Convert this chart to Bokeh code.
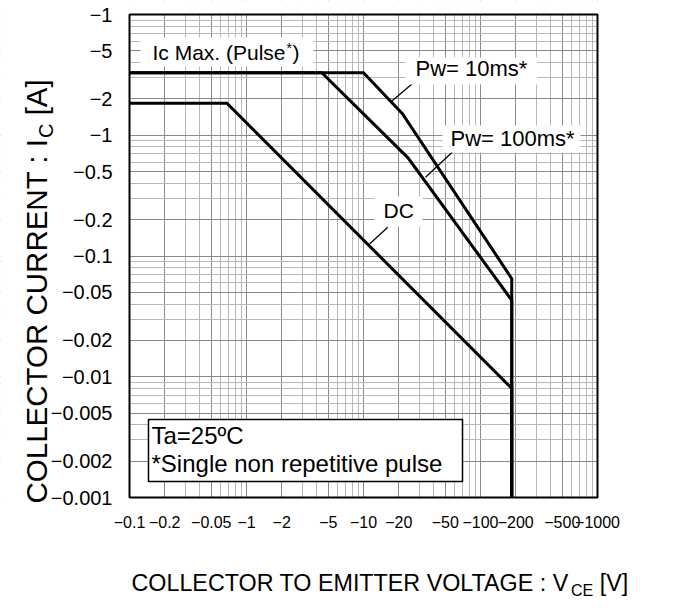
import math
from bokeh.plotting import figure
from bokeh.models import Range1d, FixedTicker, CustomJSTickFormatter, Label, BoxAnnotation
from bokeh.embed import file_html
from bokeh.resources import INLINE

# ---------------- data ----------------
x_tick_values = [0.1, 0.2, 0.5, 1, 2, 5, 10, 20, 50, 100, 200, 500, 1000]
x_tick_labels = ["−0.1", "−0.2", "−0.05", "−1", "−2", "−5", "−10", "−20",
                 "−50", "−100", "−200", "−500", "−1000"]
y_tick_values = [0.001, 0.002, 0.005, 0.01, 0.02, 0.05, 0.1, 0.2, 0.5, 1, 2, 5, 10]
y_tick_labels = ["−0.001", "−0.002", "−0.005", "−0.01", "−0.02", "−0.05", "−0.1",
                 "−0.2", "−0.5", "−1", "−2", "−5", "−1"]

vce_10ms = [0.1, 10, 21.5, 185, 185]
ic_10ms = [3.3, 3.3, 1.51, 0.065, 0.001]
vce_100ms = [0.1, 4.4, 24, 185, 185]
ic_100ms = [3.3, 3.3, 0.65, 0.043, 0.001]
vce_dc = [0.1, 0.68, 185, 185]
ic_dc = [1.84, 1.84, 0.008, 0.001]

# ---------------- layout ----------------
W, H = 684, 613
PL, PR, PT, PB = 129, 597, 14, 497      # plot box on the canvas (px)
X0, X1 = 0.1, 1000
Y0, Y1 = 0.001, 10
FONT = "Liberation Sans"
KX = (math.log10(X1) - math.log10(X0)) / (PR - PL)
KY = (math.log10(Y1) - math.log10(Y0)) / (PB - PT)
BSHIFT = 0.36   # empirical baseline correction (em)


def dx(px):
    return 10 ** (math.log10(X0) + (px - PL) * KX)


def dy(py):
    return 10 ** (math.log10(Y1) - (py - PT) * KY)


# Arial / Liberation Sans advance widths (per 1000 em)
AW = {'C': 722, 'O': 778, 'L': 556, 'E': 667, 'T': 611, 'R': 722, 'U': 722, 'N': 722,
      ' ': 278, ':': 278, 'I': 278, '[': 278, 'A': 667, ']': 278, 'V': 667, 'M': 833,
      'G': 778}


def tw(s, size):
    return sum(AW.get(c, 600) for c in s) * size / 1000.0


p = figure(width=W, height=H, output_backend="svg", toolbar_location=None,
           x_axis_type="log", y_axis_type="log",
           x_range=Range1d(dx(0), dx(W)), y_range=Range1d(dy(H), dy(0)),
           min_border=0, min_border_left=0, min_border_right=0,
           min_border_top=0, min_border_bottom=0)
p.background_fill_color = "white"
p.border_fill_color = "white"
p.outline_line_color = None

minor_x = [m * 10 ** e for e in range(-1, 3) for m in range(1, 10)] + [1000]
minor_y = [m * 10 ** e for e in range(-3, 1) for m in range(1, 10)] + [10]

fmt_code = """
let best = 0, bd = Infinity;
for (let i = 0; i < vals.length; i++) {
  const d = Math.abs(Math.log10(vals[i]) - Math.log10(tick));
  if (d < bd) { bd = d; best = i; }
}
return labels[best];
"""
p.xaxis.ticker = FixedTicker(ticks=x_tick_values, minor_ticks=minor_x)
p.yaxis.ticker = FixedTicker(ticks=y_tick_values, minor_ticks=minor_y)
p.xaxis.formatter = CustomJSTickFormatter(args=dict(vals=x_tick_values, labels=x_tick_labels), code=fmt_code)
p.yaxis.formatter = CustomJSTickFormatter(args=dict(vals=y_tick_values, labels=y_tick_labels), code=fmt_code)
p.xaxis.fixed_location = Y0
p.yaxis.fixed_location = X0

for ax in (p.xaxis, p.yaxis):
    ax.axis_line_color = None
    ax.major_tick_line_color = None
    ax.minor_tick_line_color = None
    ax.major_tick_in = 0
    ax.major_tick_out = 0
    ax.minor_tick_in = 0
    ax.minor_tick_out = 0
    ax.major_label_text_font = FONT
    ax.major_label_text_color = "black"
p.xaxis.major_label_text_font_size = "16px"
p.yaxis.major_label_text_font_size = "20px"
p.xaxis.major_label_standoff = 18
p.yaxis.major_label_standoff = 17

for g in (p.xgrid, p.ygrid):
    g.grid_line_color = "#8a8a8a"
    g.grid_line_width = 1
    g.minor_grid_line_color = "#b8b8b8"
    g.minor_grid_line_width = 1

# white margins hiding the grid outside the plot box (drawn just above the grid)
for kw in (dict(bottom=Y1), dict(top=Y0), dict(right=X0), dict(left=X1)):
    p.add_layout(BoxAnnotation(level="underlay", fill_color="white", fill_alpha=1,
                               line_color=None, **kw))

# ---------------- curves ----------------
for xs, ys in ((vce_dc, ic_dc), (vce_100ms, ic_100ms), (vce_10ms, ic_10ms)):
    p.line(xs, ys, line_color="black", line_width=3, line_join="miter")

# leader lines (layout, canvas px)
leaders = [((411.7, 83.3), (390.0, 101.7)),
           ((451.7, 151.7), (425.0, 176.7)),
           ((387.3, 226.7), (369.3, 243.3))]
p.segment(x0=[dx(a[0]) for a, b in leaders], y0=[dy(a[1]) for a, b in leaders],
          x1=[dx(b[0]) for a, b in leaders], y1=[dy(b[1]) for a, b in leaders],
          line_color="black", line_width=1.3)

# white label backgrounds
for (l, t, r, b) in [(140, 37, 313, 66), (405, 57, 537, 84), (442, 125, 580, 152),
                     (374, 196, 422, 226)]:
    p.add_layout(BoxAnnotation(left=dx(l), right=dx(r), top=dy(t), bottom=dy(b),
                               fill_color="white", fill_alpha=1, line_color=None))
p.add_layout(BoxAnnotation(left=dx(148), right=dx(462), top=dy(419), bottom=dy(481),
                           fill_color="white", fill_alpha=1, line_color="black",
                           line_alpha=1, line_width=1.5))

# plot box outline
p.add_layout(BoxAnnotation(left=X0, right=X1, bottom=Y0, top=Y1, fill_alpha=0,
                           fill_color=None, line_color="black", line_alpha=1,
                           line_width=2))


def lab(px, py, text, size, angle=0.0):
    # (px, py) = start of the text baseline on the canvas
    if angle == 0.0:
        py -= BSHIFT * size
    else:
        px -= BSHIFT * size
    p.add_layout(Label(x=dx(px), y=dy(py), text=text, text_font=FONT,
                       text_font_size=f"{size}px", text_color="black",
                       text_baseline="alphabetic", text_align="left", angle=angle))


# in-plot texts
lab(152, 60, "Ic Max. (Pulse", 21)
lab(286, 53, "*", 14)
lab(292, 60, ")", 21)
lab(415, 76, "Pw= 10ms*", 22)
lab(450, 146, "Pw= 100ms*", 22)
lab(383, 218, "DC", 21)
lab(151, 444, "Ta=25ºC", 24)
lab(151, 472, "*Single non repetitive pulse", 24)

# x-axis title with subscript
XT = 23.3
xt_main = "COLLECTOR TO EMITTER VOLTAGE : V"
x_start = 131
lab(x_start, 591, xt_main, XT)
x_sub = x_start + tw(xt_main, XT) - 2
lab(x_sub, 596, "CE", 16)
lab(x_sub + tw("CE", 16) + tw(" ", XT), 591, "[V]", XT)

# y-axis title with subscript (rotated)
YT = 29.5
yt_main = "COLLECTOR CURRENT : I"
y_start = 503
y_base = 47
lab(y_base, y_start, yt_main, YT, math.pi / 2)
y_sub = y_start - tw(yt_main, YT)
lab(y_base + 6, y_sub, "C", 20, math.pi / 2)
lab(y_base, y_sub - tw("C", 20) - tw(" ", YT), "[A]", YT, math.pi / 2)

open("out.html", "w").write(file_html(p, INLINE))
